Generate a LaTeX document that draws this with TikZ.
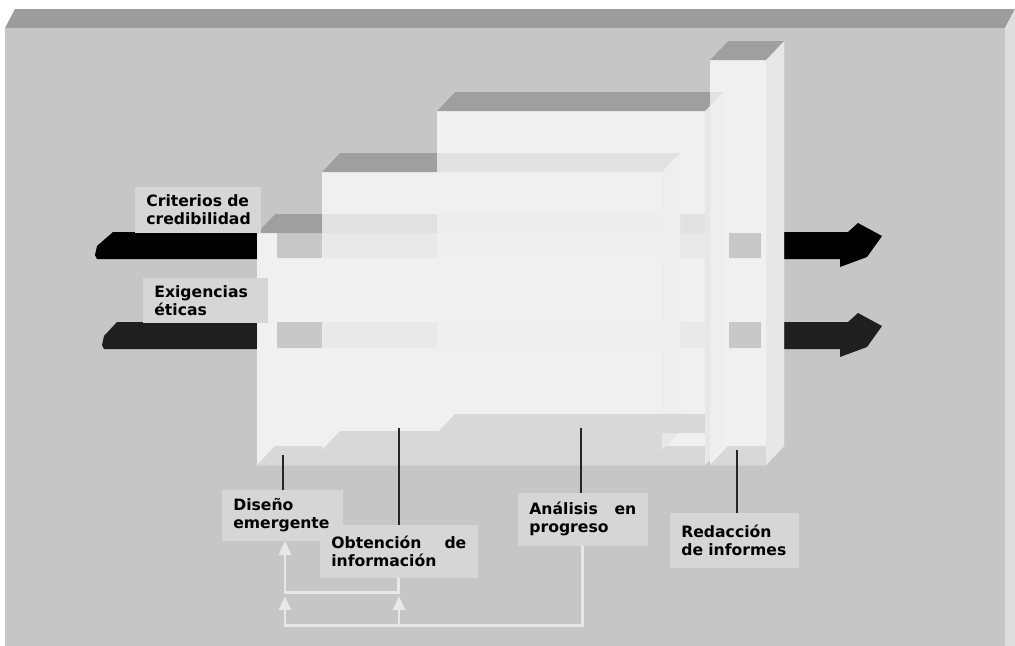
\documentclass[tikz,border=0pt]{standalone}
\usepackage{fontspec}
\setmainfont{DejaVu Sans}
\usepackage{tikz}
\usetikzlibrary{arrows.meta}

\definecolor{slab}{HTML}{C6C6C6}
\definecolor{slabtop}{HTML}{9C9C9C}
\definecolor{slabside}{HTML}{DEDEDE}
\definecolor{lid}{HTML}{939393}
\definecolor{flank}{HTML}{F3F3F3}
\definecolor{floor}{HTML}{DFDFDF}
\definecolor{ghost}{HTML}{C9C9C9}
\definecolor{tagfill}{HTML}{D6D6D6}
\definecolor{loopline}{HTML}{E8E8E8}

\pgfdeclarelayer{scene}
\pgfdeclarelayer{tagbg}
\pgfsetlayers{scene,tagbg,main}

\begin{document}
\begin{tikzpicture}[x=0.02cm,y=-0.02cm]
            \tikzstyle{tag}=[anchor=north west,inner xsep=0.22cm,inner ysep=0pt,font=\bfseries\fontsize{8.9}{10.2}\selectfont,align=left]
            \tikzstyle{lead}=[draw=black!85,line width=1.2pt]
            \tikzstyle{fb}=[draw=loopline,line width=1.7pt,-{Triangle[width=6.8pt,length=8pt]}]
            \useasboundingbox (0,0) rectangle (1015,646);

            \begin{pgfonlayer}{scene}
            \fill[white] (0,0) rectangle (1015,646);

            % back slab
            \fill[slabtop] (5,28) -- (15,9) -- (1015,9) -- (1005,28) -- cycle;
            \fill[slabside] (1005,28) -- (1015,9) -- (1015,646) -- (1005,646) -- cycle;
            \fill[slab] (5,28) rectangle (1005,646);

            % black arrows, in and out
            \foreach \t/\b/\l/\m/\c in {232/259/113/95/black, 322/349/117/102/black!88} {
                \fill[\c] (\l,\t) -- (257,\t) -- (257,\b) -- (\m+2,\b) -- (\m,\b-4) -- (\m+2,\t+14) -- cycle;
                \fill[\c] (784,\t) -- (848,\t) -- (858,\t-9) -- (882,\t+4) -- (867,\b-2) -- (840,\b+8)
                    -- (840,\b) -- (784,\b) -- cycle;
            }

            % the four boxes, seen through
            \begin{scope}[transparency group,opacity=0.75]
                \foreach \xa/\xb/\ya/\yb in {257/705/233/465, 322/662/172/450, 437/705/111/433, 710/766/60/465}
                    \fill[white] (\xa,\ya) -- (\xa+18,\ya-19) -- (\xb+18,\ya-19) -- (\xb+18,\yb-19) -- (\xb,\yb) -- (\xa,\yb) -- cycle;
                \foreach \xa/\xb/\ya/\yb/\ga/\gb in {257/705/233/465/277/705, 322/662/172/450/0/0, 437/705/111/433/0/0, 710/766/60/465/729/761} {
                    \fill[white,opacity=0.82] (\xa,\ya) rectangle (\xb,\yb);
                    \ifnum\ga>0
                        \fill[ghost] (\ga,233) rectangle (\gb,258);
                        \fill[ghost] (\ga,322) rectangle (\gb,348);
                    \fi
                    \fill[floor] (\xa,\yb) -- (\xa+18,\yb-19) -- (\xb+18,\yb-19) -- (\xb,\yb) -- cycle;
                    \fill[flank] (\xb,\ya) -- (\xb+18,\ya-19) -- (\xb+18,\yb-19) -- (\xb,\yb) -- cycle;
                    \fill[lid] (\xa,\ya) -- (\xa+18,\ya-19) -- (\xb+18,\ya-19) -- (\xb,\ya) -- cycle;
                }
            \end{scope}
            \end{pgfonlayer}

            % labels
            \node[tag,minimum width=2.5cm,minimum height=0.9cm,text width=2.06cm] (cred) at (135,187) {Criterios de\\credibilidad};
            \node[tag,minimum width=2.48cm,minimum height=0.88cm,text width=2.04cm] (etic) at (143,278) {Exigencias\\éticas};
            \node[tag,minimum width=2.36cm,minimum height=1.0cm,text width=1.96cm] (dis) at (222,490) {Diseño\\emergente};
            \node[tag,minimum width=3.14cm,minimum height=1.04cm,text width=2.7cm] (obt) at (320,525) {Obtención\hfill de\\información};
            \node[tag,minimum width=2.54cm,minimum height=1.04cm,text width=2.14cm] (ana) at (518,493) {Análisis\hfill en\\progreso};
            \node[tag,minimum width=2.56cm,minimum height=1.08cm,text width=2.12cm] (red) at (670,513) {Redacción\\de informes};
            \begin{pgfonlayer}{tagbg}
            \foreach \n in {cred,etic,dis,obt,ana,red}
                \fill[tagfill] (\n.north west) rectangle (\n.south east);
            \end{pgfonlayer}

            % leaders from the boxes
            \coordinate (disA) at (283,455);
            \coordinate (obtB) at (399,428);
            \coordinate (anaC) at (581,428);
            \coordinate (redD) at (737,450);
            \draw[lead] (disA) -- (disA |- dis.north);
            \draw[lead] (obtB) -- (obtB |- obt.north);
            \draw[lead] (anaC) -- (anaC |- ana.north);
            \draw[lead] (redD) -- (redD |- red.north);

            % feedback loops
            \coordinate (upL) at (285,592);
            \coordinate (lowL) at (285,625);
            \coordinate (lowM) at (399,625);
            \draw[fb] (obt.south) |- (upL) -- (upL |- dis.south);
            \draw[fb] (ana.south) |- (lowL) -- ++(0,-29);
            \draw[fb] (lowM) -- ++(0,-29);

        \end{tikzpicture}
\end{document}
